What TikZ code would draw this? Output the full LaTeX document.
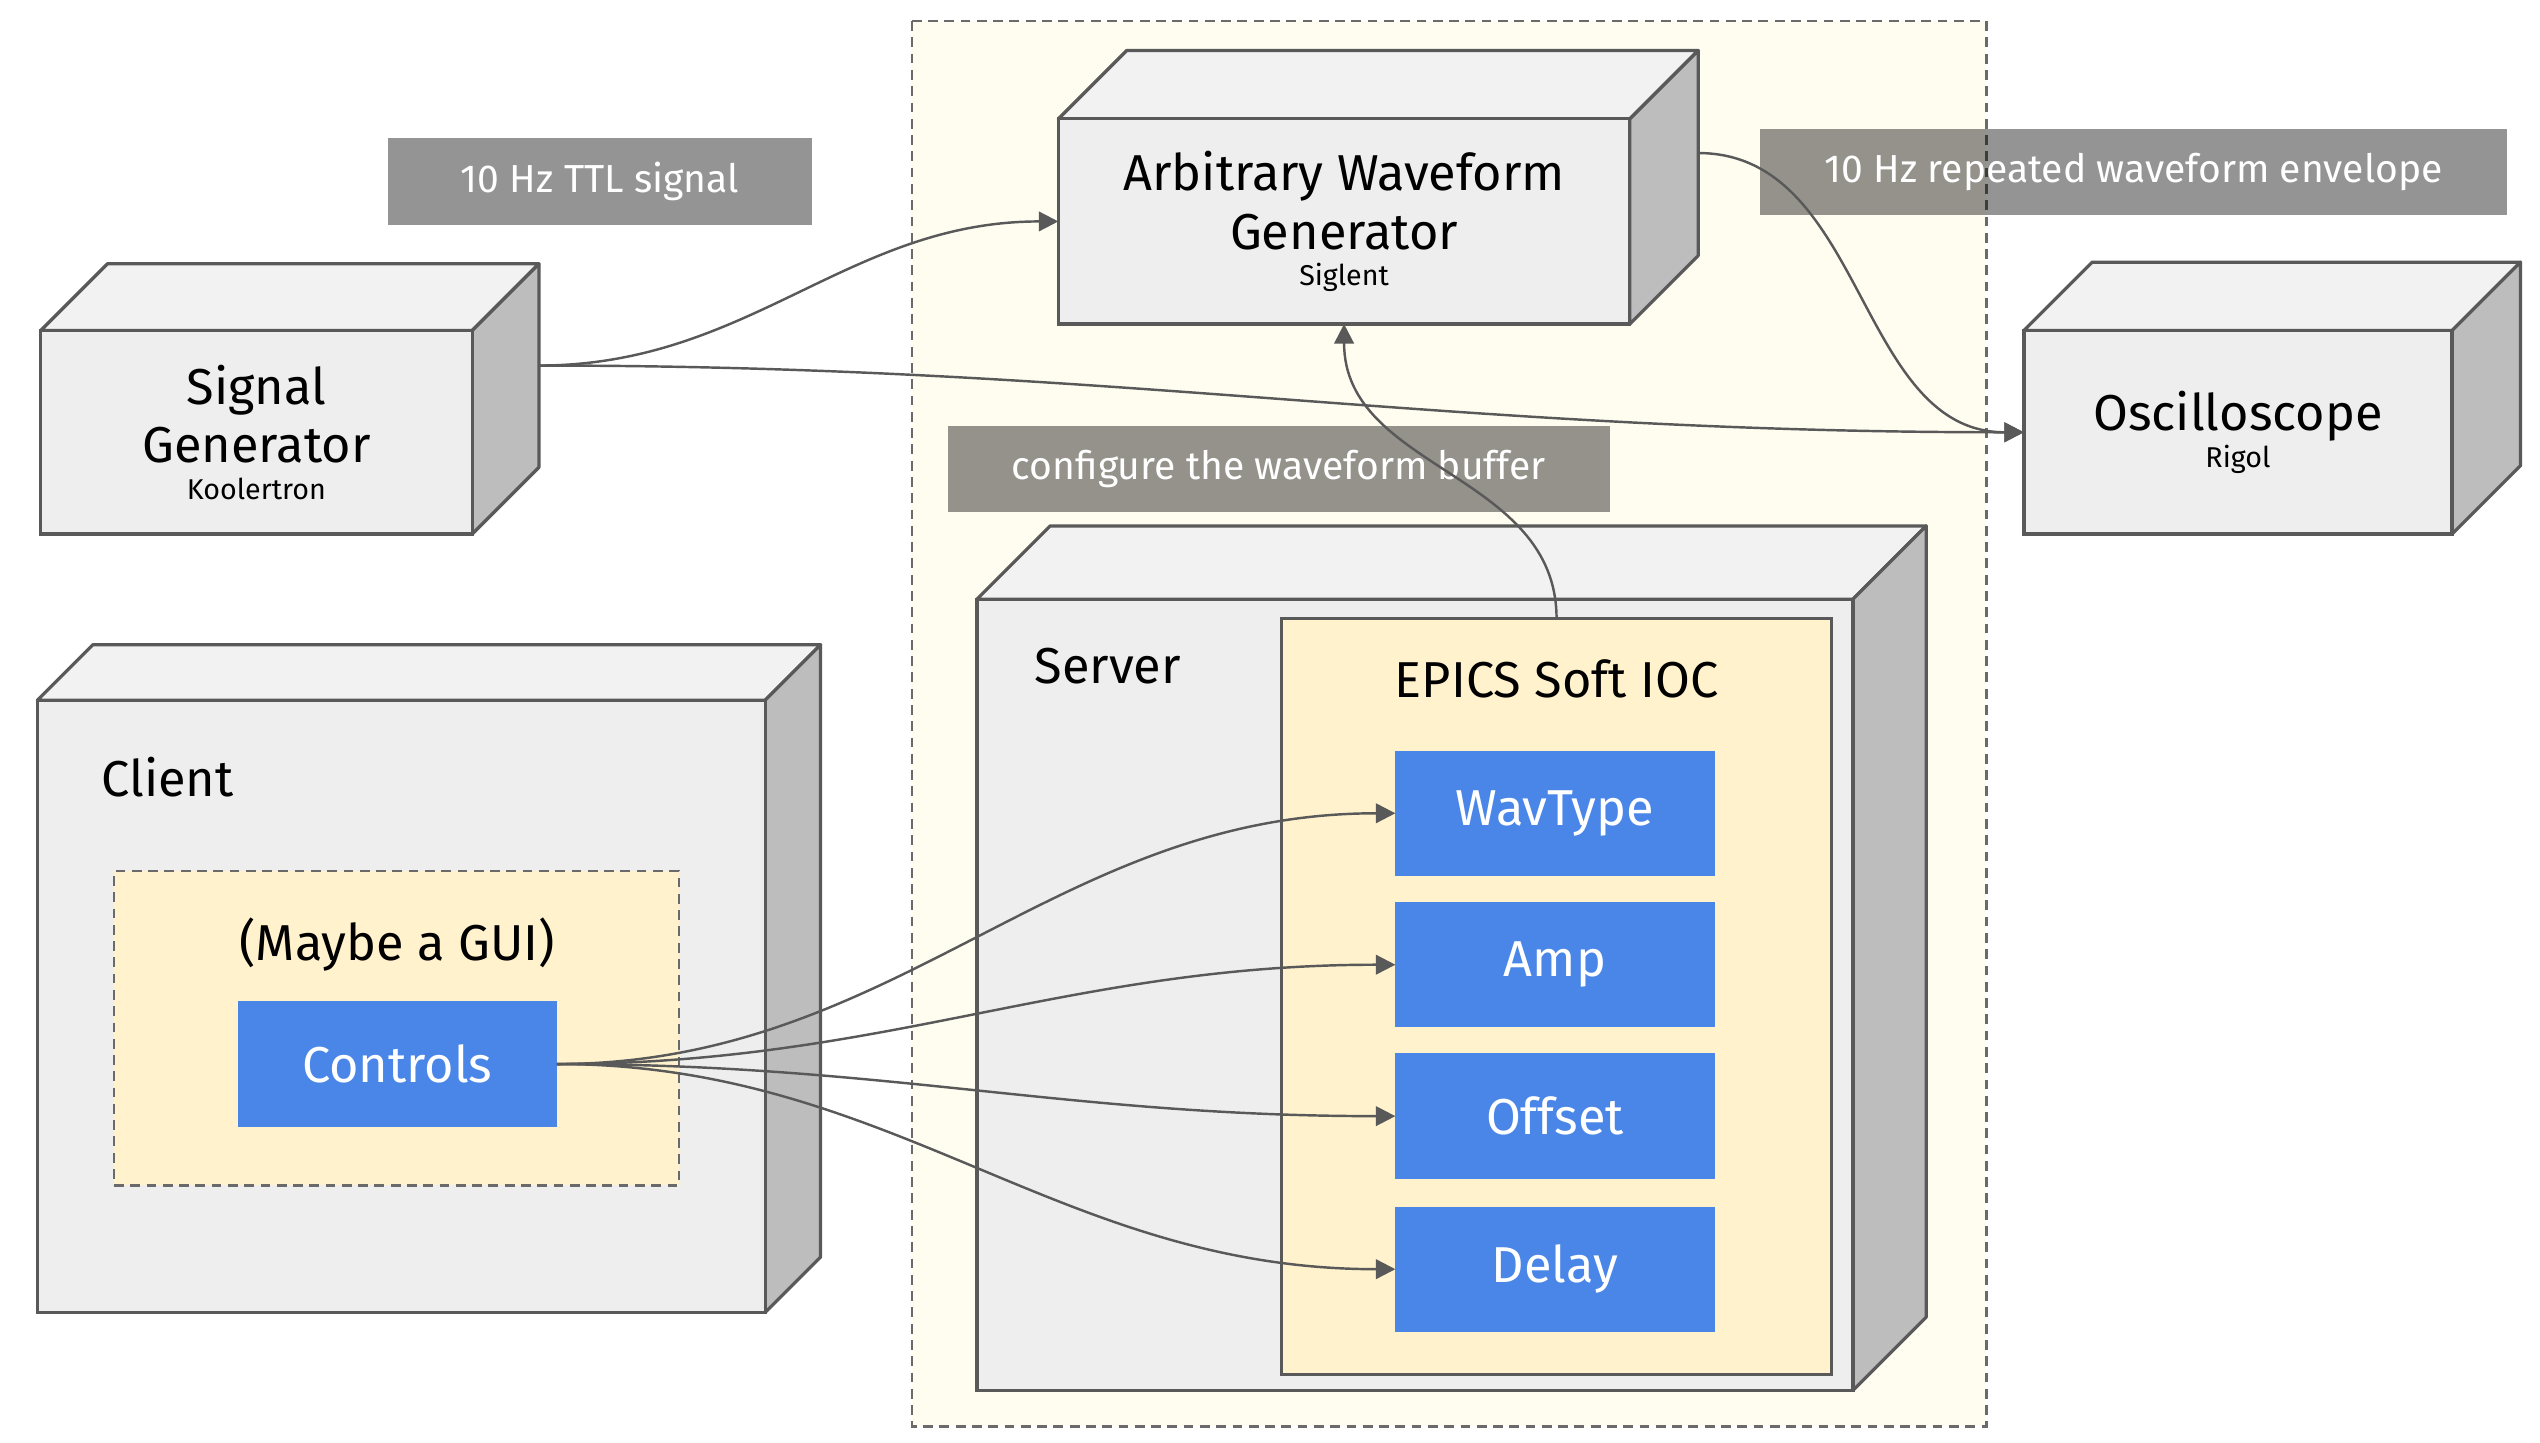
\documentclass[tikz,border=0pt]{standalone}
\usepackage{fontspec}
\setmainfont{Fira Sans}
\usetikzlibrary{arrows.meta,positioning}

\definecolor{edge}{HTML}{595959}
\definecolor{facefront}{HTML}{EEEEEE}
\definecolor{facetop}{HTML}{F2F2F2}
\definecolor{faceside}{HTML}{BDBDBD}
\definecolor{labcream}{HTML}{FFFCF0}
\definecolor{iocyellow}{HTML}{FFF2CC}
\definecolor{pvblue}{HTML}{4A86E8}

\newcommand{\subfont}{\fontsize{8.8}{11}\selectfont}

\tikzset{
  devfront/.style={rectangle,fill=facefront,draw=edge,line width=1pt,inner sep=0pt,outer sep=0pt,align=center},
  devtop/.style={fill=facetop,draw=edge,line width=1pt,line join=round},
  devside/.style={fill=faceside,draw=edge,line width=1pt,line join=round},
  tag/.style={fill=black,fill opacity=0.42,text opacity=1,text=white,inner sep=0pt,minimum height=26.5pt,font=\fontsize{12}{14}\selectfont},
  pv/.style={fill=pvblue,text=white,minimum width=98pt,minimum height=38.5pt,inner sep=0pt,outer sep=0pt},
  link/.style={draw=edge,line width=0.75pt,->},
}

% cube: name, front x1, y1, x2, y2, depth, text
\newcommand{\devbox}[7]{%
  \pgfmathsetmacro\devw{(#4-#2)*0.5}%
  \pgfmathsetmacro\devh{(#5-#3)*0.5}%
  \draw[devtop] (#2,#3) -- ({#2+#6},{#3-#6}) -- ({#4+#6},{#3-#6}) -- (#4,#3) -- cycle;
  \draw[devside] (#4,#3) -- ({#4+#6},{#3-#6}) -- ({#4+#6},{#5-#6}) -- (#4,#5) -- cycle;
  \node[devfront,minimum width=\devw pt,minimum height=\devh pt] (#1) at ({(#2+#4)/2},{(#3+#5)/2}) {#7};
  \coordinate (#1-r) at ({#4+#6},{(#3+#5)/2-#6});
}

\begin{document}
\begin{tikzpicture}[x=0.5pt,y=-0.5pt,font=\fontsize{15.5}{18}\selectfont,
    >={Triangle[length=6pt,width=6pt]}]
    \useasboundingbox (0,0) rectangle (1560,885.65);
    % lab bench
    \draw[fill=labcream,draw=edge!90,line width=0.75pt,dash pattern=on 3pt off 2pt] (560,13) rectangle (1220,876);

    \devbox{sig}{25}{203}{290}{328}{41}{Signal\\Generator\\[-6.8pt]{\subfont Koolertron}}
    \devbox{awg}{650}{73}{1001}{199}{42}{Arbitrary Waveform\\Generator\\[-6.8pt]{\subfont Siglent}}
    \devbox{osc}{1243}{203}{1506}{328}{42}{Oscilloscope\\[-6.8pt]{\subfont Rigol}}
    \devbox{client}{23}{430}{470}{806}{34}{}
    \devbox{server}{600}{368}{1138}{854}{45}{}

    \node[anchor=west,inner sep=0pt] (clientlbl) at (62,477) {Client};
    \node[anchor=west,inner sep=0pt] (serverlbl) at (635,409) {Server};

    % client side
    \node[fill=iocyellow,draw=edge!90,line width=0.75pt,dash pattern=on 3pt off 2pt,minimum width=173.5pt,minimum height=96.5pt] (gui) at (243.5,631.5) {};
    \node (guilbl) at (244,580) {(Maybe a GUI)};
    \node[pv] (controls) at (244,653.5) {Controls};

    % server side
    \node[fill=iocyellow,draw=edge,line width=1pt,minimum width=169pt,minimum height=232pt,inner sep=0pt,outer sep=0pt] (ioc) at (956,612) {};
    \node (ioclbl) at (956,417) {EPICS Soft IOC};
    \node[pv] (wav) at (955,499.5) {WavType};
    \node[pv] (amp) at (955,592.5) {Amp};
    \node[pv] (off) at (955,685.5) {Offset};
    \node[pv] (del) at (955,779.5) {Delay};

    % signal labels
    \node[tag,minimum width=130.5pt] (ttl) at (368.5,111.5) {10 Hz TTL signal};
    \node[tag,minimum width=229.5pt] (env) at (1310.5,105.5) {10 Hz repeated waveform envelope};
    \node[tag,minimum width=203.5pt] (cfg) at (785.5,288) {configure the waveform buffer};

    \draw[link] (sig-r) to[out=0,in=180] (awg.west);
    \draw[link] (sig-r) to[out=0,in=180] (osc.west);
    \draw[link] (awg-r) to[out=0,in=180] (osc.west);
    \draw[link] (ioc.north) .. controls +(0,-90) and +(0,90) .. (awg.south);
    \draw[link] (controls.east) to[out=0,in=180] (wav.west);
    \draw[link] (controls.east) to[out=0,in=180] (amp.west);
    \draw[link] (controls.east) to[out=0,in=180] (off.west);
    \draw[link] (controls.east) to[out=0,in=180] (del.west);
\end{tikzpicture}
\end{document}
